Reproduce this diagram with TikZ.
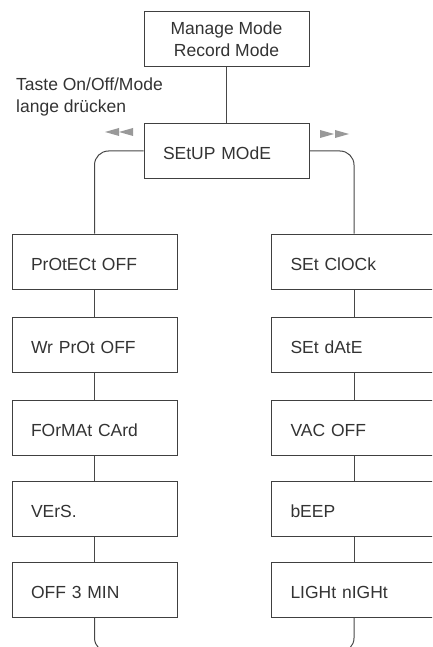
\documentclass[tikz,border=0pt]{standalone}
\usepackage{fontspec}
\setmainfont{Liberation Sans}
\begin{document}
\begin{tikzpicture}[x=1pt,y=-1pt,
  every node/.style={font=\fontsize{17.5}{22}\selectfont, text=black!80},
  box/.style={draw=black!75, line width=1pt, rectangle, minimum height=55pt, inner sep=0pt, inner xsep=19pt, text width=127pt, text height=18pt, text depth=0pt, align=left},
  cbox/.style={draw=black!75, line width=1pt, rectangle, minimum height=55pt, minimum width=165pt, inner sep=0pt, align=center},
  conn/.style={draw=black!72, line width=1pt},
  arr/.style={fill=black!40}]
\useasboundingbox (0,0) rectangle (432,647);
\clip (0,0) rectangle (432,647);
\node[cbox] (manage) at (226.5,39.5) {Manage Mode\\Record Mode};
\node[box] (setup) at (226.5,151) {SEtUP MOdE};
\node[anchor=north west, align=left, inner sep=0pt] (taste) at (16,78) {Taste On/Off/Mode\\lange drücken};
% left column
\node[box] (l1) at (94.5,261.5) {PrOtECt OFF};
\node[box] (l2) at (94.5,344.5) {Wr PrOt OFF};
\node[box] (l3) at (94.5,427.5) {FOrMAt CArd};
\node[box] (l4) at (94.5,508.5) {VErS.};
\node[box] (l5) at (94.5,589.5) {OFF 3 MIN};
% right column
\node[box] (r1) at (354,261.5) {SEt ClOCk};
\node[box] (r2) at (354,344.5) {SEt dAtE};
\node[box] (r3) at (354,427.5) {VAC OFF};
\node[box] (r4) at (354,508.5) {bEEP};
\node[box] (r5) at (354,589.5) {LIGHt nIGHt};
\coordinate (lb) at (94.5,652);
\coordinate (lbe) at (120,652);
\coordinate (rb) at (354,652);
\coordinate (rbe) at (330,652);
\draw[conn] (manage.south) -- (setup.north);
\draw[conn, rounded corners=14pt] (setup.west) -| (l1.north);
\draw[conn, rounded corners=14pt] (setup.east) -| (r1.north);
\draw[conn] (l1.south) -- (l2.north);
\draw[conn] (l2.south) -- (l3.north);
\draw[conn] (l3.south) -- (l4.north);
\draw[conn] (l4.south) -- (l5.north);
\draw[conn] (r1.south) -- (r2.north);
\draw[conn] (r2.south) -- (r3.north);
\draw[conn] (r3.south) -- (r4.north);
\draw[conn] (r4.south) -- (r5.north);
\draw[conn, rounded corners=14pt] (l5.south) -- (lb) -- (lbe);
\draw[conn, rounded corners=14pt] (r5.south) -- (rb) -- (rbe);
% gray double arrows
\fill[arr] (105,132) -- (119,128) -- (119,136) -- cycle;
\fill[arr] (119,132) -- (133,128) -- (133,136) -- cycle;
\fill[arr] (334,134) -- (320,130) -- (320,138) -- cycle;
\fill[arr] (349,134) -- (335,130) -- (335,138) -- cycle;
\end{tikzpicture}
\end{document}
